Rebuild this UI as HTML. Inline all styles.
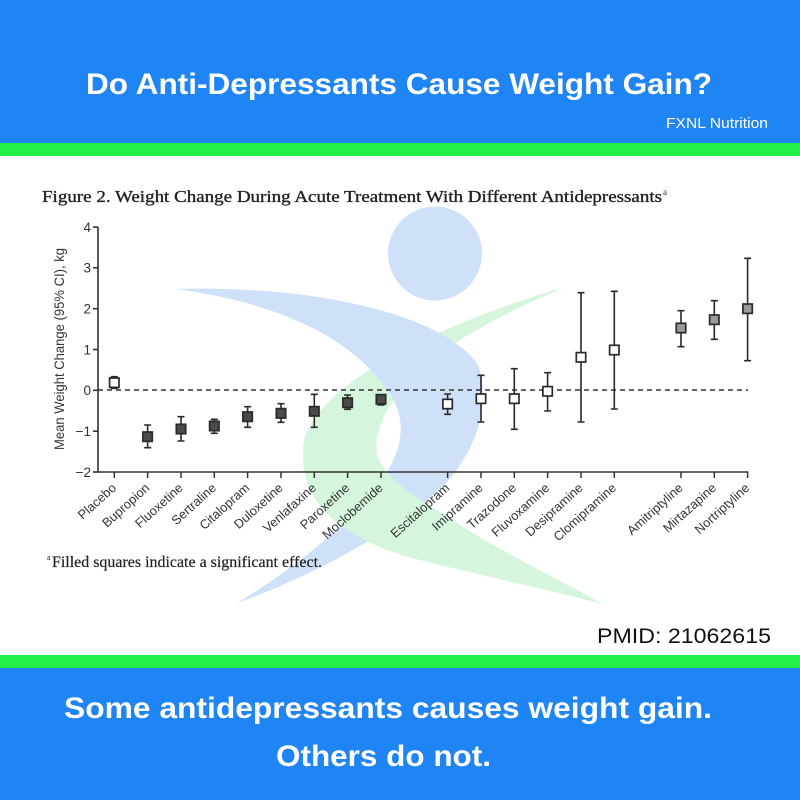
<!DOCTYPE html>
<html><head><meta charset="utf-8"><style>
html,body{margin:0;padding:0;background:#fff;}
svg{display:block;}
</style></head><body>
<svg width="800" height="800" viewBox="0 0 800 800" xmlns="http://www.w3.org/2000/svg">
<defs>
<clipPath id="low"><rect x="0" y="462" width="800" height="200"/></clipPath>
</defs>
<rect x="0" y="0" width="800" height="800" fill="#ffffff"/>
<!-- header -->
<rect x="0" y="0" width="800" height="143" fill="#1f84f4"/>
<rect x="0" y="143" width="800" height="13" fill="#22f046"/>
<text x="86" y="94" font-family="Liberation Sans, Arial, sans-serif" font-weight="bold" font-size="30" fill="#ffffff" textLength="626" lengthAdjust="spacingAndGlyphs">Do Anti-Depressants Cause Weight Gain?</text>
<text x="666" y="128" font-family="Liberation Sans, Arial, sans-serif" font-size="15" fill="#ffffff" textLength="102" lengthAdjust="spacingAndGlyphs">FXNL Nutrition</text>

<!-- watermark -->
<path d="M565,287 C450,320 320,380 304,440 C295,500 340,540 420,560 C480,575 550,590 603,604 C540,570 480,540 453,520 C420,500 385,480 377,455 C372,420 400,380 460,340 C500,315 540,298 565,287 Z" fill="#d5f6dc"/>
<circle cx="435" cy="253.5" r="47" fill="#cfe1f8"/>
<path d="M175,289 C300,285 440,310 478,365 C490,400 480,440 453,475 C420,515 330,570 237,603 C300,565 360,515 385,475 C405,445 405,415 390,395 C350,330 260,300 175,289 Z" fill="#cfe1f8"/>
<path clip-path="url(#low)" d="M565,287 C450,320 320,380 304,440 C295,500 340,540 420,560 C480,575 550,590 603,604 C540,570 480,540 453,520 C420,500 385,480 377,455 C372,420 400,380 460,340 C500,315 540,298 565,287 Z" fill="#d5f6dc"/>

<!-- figure title -->
<text x="42" y="202" font-family="Liberation Serif, Times New Roman, serif" font-size="17" fill="#222" stroke="#222" stroke-width="0.35" textLength="620" lengthAdjust="spacingAndGlyphs">Figure 2. Weight Change During Acute Treatment With Different Antidepressants</text>
<text x="663" y="195" font-family="Liberation Serif, serif" font-size="9" fill="#222">a</text>

<!-- axes -->
<g stroke="#333" stroke-width="1.6" fill="none">
<line x1="98" y1="227" x2="98" y2="472.5"/>
<line x1="97.3" y1="472" x2="748.5" y2="472"/>
<line x1="93" y1="227" x2="98" y2="227"/>
<line x1="93" y1="267.8" x2="98" y2="267.8"/>
<line x1="93" y1="308.7" x2="98" y2="308.7"/>
<line x1="93" y1="349.5" x2="98" y2="349.5"/>
<line x1="93" y1="390.3" x2="98" y2="390.3"/>
<line x1="93" y1="431.2" x2="98" y2="431.2"/>
<line x1="93" y1="472" x2="98" y2="472"/>
</g>
<line x1="98" y1="390" x2="748" y2="390" stroke="#333" stroke-width="1.4" stroke-dasharray="5,4"/>
<g font-family="Liberation Sans, Arial, sans-serif" font-size="13.5" fill="#333" text-anchor="end">
<text x="91" y="232">4</text>
<text x="91" y="272.5">3</text>
<text x="91" y="313.5">2</text>
<text x="91" y="354.5">1</text>
<text x="91" y="395">0</text>
<text x="91" y="436">−1</text>
<text x="91" y="477">−2</text>
</g>
<text transform="translate(64,349) rotate(-90)" text-anchor="middle" font-family="Liberation Sans, Arial, sans-serif" font-size="13.5" fill="#333" textLength="202" lengthAdjust="spacingAndGlyphs">Mean Weight Change (95% CI), kg</text>

<!-- x ticks -->
<g stroke="#333" stroke-width="1.5">
<line x1="114.3" y1="472" x2="114.3" y2="478"/>
<line x1="147.6" y1="472" x2="147.6" y2="478"/>
<line x1="181" y1="472" x2="181" y2="478"/>
<line x1="214.3" y1="472" x2="214.3" y2="478"/>
<line x1="247.6" y1="472" x2="247.6" y2="478"/>
<line x1="281" y1="472" x2="281" y2="478"/>
<line x1="314.3" y1="472" x2="314.3" y2="478"/>
<line x1="347.6" y1="472" x2="347.6" y2="478"/>
<line x1="381" y1="472" x2="381" y2="478"/>
<line x1="447.6" y1="472" x2="447.6" y2="478"/>
<line x1="481" y1="472" x2="481" y2="478"/>
<line x1="514.3" y1="472" x2="514.3" y2="478"/>
<line x1="547.6" y1="472" x2="547.6" y2="478"/>
<line x1="581" y1="472" x2="581" y2="478"/>
<line x1="614.3" y1="472" x2="614.3" y2="478"/>
<line x1="681" y1="472" x2="681" y2="478"/>
<line x1="714.3" y1="472" x2="714.3" y2="478"/>
<line x1="747.6" y1="472" x2="747.6" y2="478"/>
</g>
<g font-family="Liberation Sans, Arial, sans-serif" font-size="12.8" fill="#333" text-anchor="end">
<text transform="translate(117,489) rotate(-42)">Placebo</text>
<text transform="translate(150.3,489) rotate(-42)">Bupropion</text>
<text transform="translate(183.7,489) rotate(-42)">Fluoxetine</text>
<text transform="translate(217,489) rotate(-42)">Sertraline</text>
<text transform="translate(250.3,489) rotate(-42)">Citalopram</text>
<text transform="translate(283.7,489) rotate(-42)">Duloxetine</text>
<text transform="translate(317,489) rotate(-42)">Venlafaxine</text>
<text transform="translate(350.3,489) rotate(-42)">Paroxetine</text>
<text transform="translate(383.7,489) rotate(-42)">Moclobemide</text>
<text transform="translate(450.3,489) rotate(-42)">Escitalopram</text>
<text transform="translate(483.7,489) rotate(-42)">Imipramine</text>
<text transform="translate(517,489) rotate(-42)">Trazodone</text>
<text transform="translate(550.3,489) rotate(-42)">Fluvoxamine</text>
<text transform="translate(583.7,489) rotate(-42)">Desipramine</text>
<text transform="translate(617,489) rotate(-42)">Clomipramine</text>
<text transform="translate(683.7,489) rotate(-42)">Amitriptyline</text>
<text transform="translate(717,489) rotate(-42)">Mirtazapine</text>
<text transform="translate(750.3,489) rotate(-42)">Nortriptyline</text>
</g>

<!-- error bars -->
<g stroke="#2a2a2a" stroke-width="1.6" fill="none">
<path d="M114.3,376.7V388.3M110.8,376.7H117.8M110.8,388.3H117.8"/>
<path d="M147.6,425V447.7M144.1,425H151.1M144.1,447.7H151.1"/>
<path d="M181,416.7V441M177.5,416.7H184.5M177.5,441H184.5"/>
<path d="M214.3,419.3V433.3M210.8,419.3H217.8M210.8,433.3H217.8"/>
<path d="M247.6,406.7V427.3M244.1,406.7H251.1M244.1,427.3H251.1"/>
<path d="M281,403.7V422.3M277.5,403.7H284.5M277.5,422.3H284.5"/>
<path d="M314.3,394.3V427.3M310.8,394.3H317.8M310.8,427.3H317.8"/>
<path d="M347.6,395V409.3M344.1,395H351.1M344.1,409.3H351.1"/>
<path d="M381,396V405M377.5,396H384.5M377.5,405H384.5"/>
<path d="M447.6,394V414.3M444.1,394H451.1M444.1,414.3H451.1"/>
<path d="M481,375.3V422M477.5,375.3H484.5M477.5,422H484.5"/>
<path d="M514.3,368.7V429.3M510.8,368.7H517.8M510.8,429.3H517.8"/>
<path d="M547.6,372.7V411M544.1,372.7H551.1M544.1,411H551.1"/>
<path d="M581,292.7V422M577.5,292.7H584.5M577.5,422H584.5"/>
<path d="M614.3,291.3V409M610.8,291.3H617.8M610.8,409H617.8"/>
<path d="M681,310.7V346.7M677.5,310.7H684.5M677.5,346.7H684.5"/>
<path d="M714.3,300.7V339.3M710.8,300.7H717.8M710.8,339.3H717.8"/>
<path d="M747.6,258.3V360.7M744.1,258.3H751.1M744.1,360.7H751.1"/>
</g>
<!-- markers -->
<g stroke="#2a2a2a" stroke-width="1.7">
<rect x="109.6" y="378" width="9.4" height="9.4" fill="#ffffff"/>
<rect x="142.9" y="432" width="9.4" height="9.4" fill="#4a4a4a"/>
<rect x="176.3" y="424.3" width="9.4" height="9.4" fill="#4a4a4a"/>
<rect x="209.6" y="421.3" width="9.4" height="9.4" fill="#4a4a4a"/>
<rect x="242.9" y="412" width="9.4" height="9.4" fill="#4a4a4a"/>
<rect x="276.3" y="408.6" width="9.4" height="9.4" fill="#4a4a4a"/>
<rect x="309.6" y="406.6" width="9.4" height="9.4" fill="#4a4a4a"/>
<rect x="342.9" y="398" width="9.4" height="9.4" fill="#4a4a4a"/>
<rect x="376.3" y="394.6" width="9.4" height="9.4" fill="#4a4a4a"/>
<rect x="442.9" y="399.3" width="9.4" height="9.4" fill="#ffffff"/>
<rect x="476.3" y="394" width="9.4" height="9.4" fill="#ffffff"/>
<rect x="509.6" y="394" width="9.4" height="9.4" fill="#ffffff"/>
<rect x="542.9" y="386.6" width="9.4" height="9.4" fill="#ffffff"/>
<rect x="576.3" y="352.6" width="9.4" height="9.4" fill="#ffffff"/>
<rect x="609.6" y="345.3" width="9.4" height="9.4" fill="#ffffff"/>
<rect x="676.3" y="323.3" width="9.4" height="9.4" fill="#9a9a9a"/>
<rect x="709.6" y="315" width="9.4" height="9.4" fill="#9a9a9a"/>
<rect x="742.9" y="304" width="9.4" height="9.4" fill="#9a9a9a"/>
</g>

<!-- footnote -->
<text x="47" y="560" font-family="Liberation Serif, serif" font-size="8" fill="#222">a</text>
<text x="52" y="567" font-family="Liberation Serif, Times New Roman, serif" font-size="15.5" fill="#222" stroke="#222" stroke-width="0.2" textLength="270" lengthAdjust="spacingAndGlyphs">Filled squares indicate a significant effect.</text>

<!-- PMID -->
<text x="597" y="643" font-family="Liberation Sans, Arial, sans-serif" font-size="21" fill="#111" textLength="174" lengthAdjust="spacingAndGlyphs">PMID: 21062615</text>

<!-- footer -->
<rect x="0" y="655" width="800" height="13" fill="#22f046"/>
<rect x="0" y="668" width="800" height="132" fill="#1f84f4"/>
<text x="64" y="718" font-family="Liberation Sans, Arial, sans-serif" font-weight="bold" font-size="30" fill="#ffffff" textLength="648" lengthAdjust="spacingAndGlyphs">Some antidepressants causes weight gain.</text>
<text x="276" y="766" font-family="Liberation Sans, Arial, sans-serif" font-weight="bold" font-size="30" fill="#ffffff" textLength="215" lengthAdjust="spacingAndGlyphs">Others do not.</text>
</svg>
</body></html>
